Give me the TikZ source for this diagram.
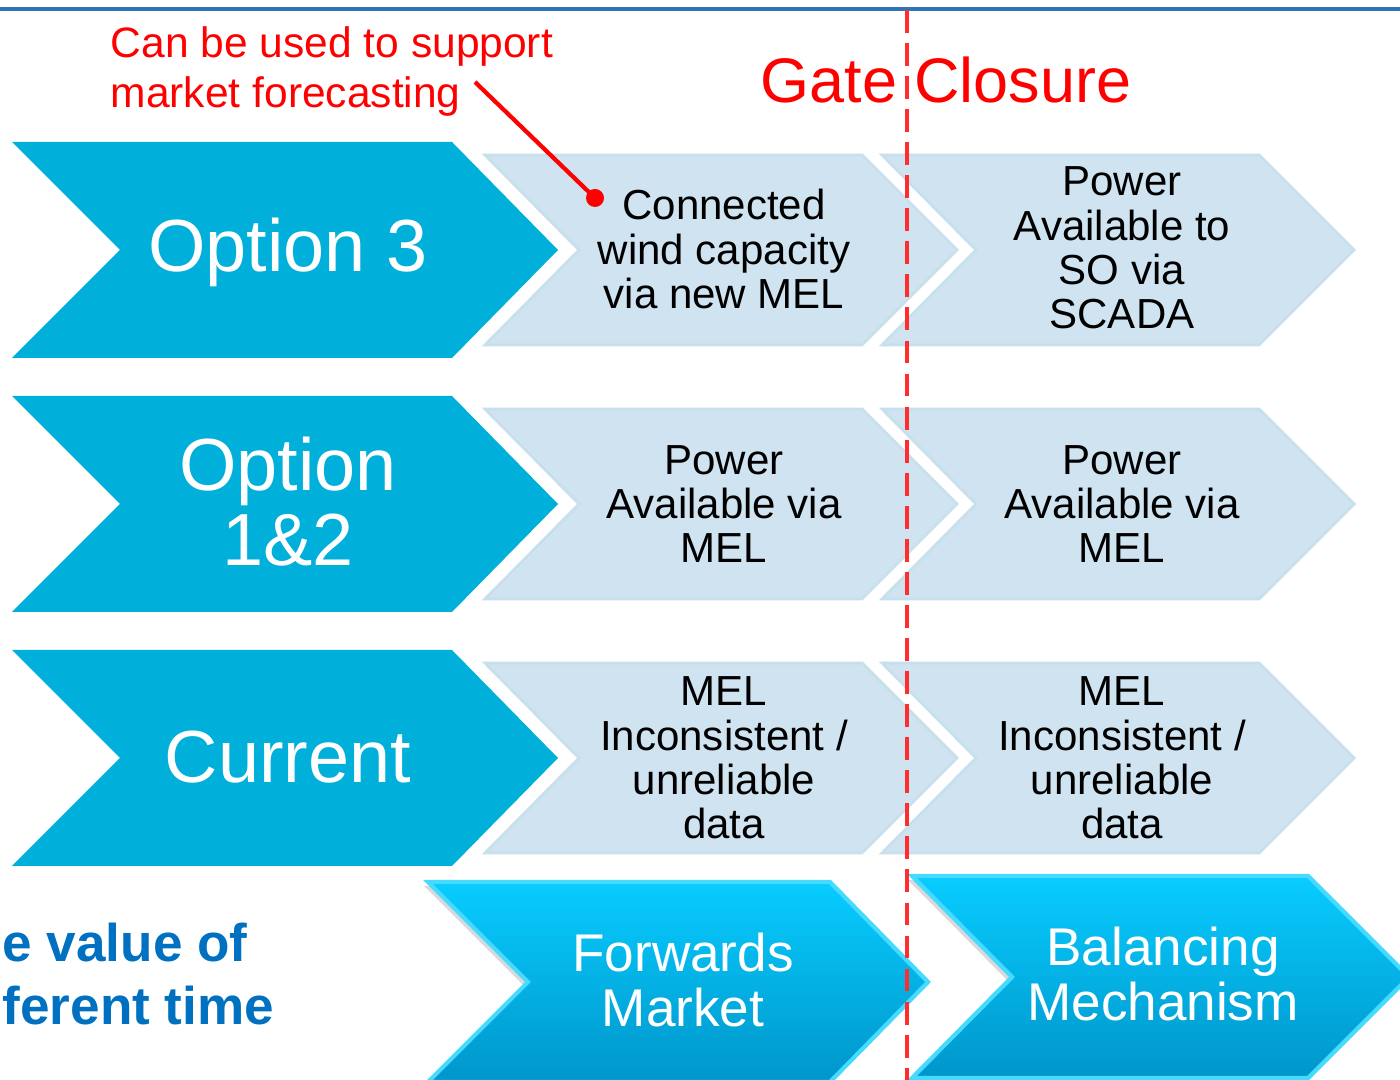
\documentclass[tikz,border=0pt]{standalone}
\usepackage{fontspec}
\setmainfont{Liberation Sans}
\definecolor{gateRule}{RGB}{46,117,182}
\definecolor{gateOption}{RGB}{0,176,219}
\definecolor{gateStage}{RGB}{207,227,240}
\definecolor{gateStageEdge}{RGB}{200,223,238}
\definecolor{gateMarketTop}{RGB}{8,204,255}
\definecolor{gateMarketBottom}{RGB}{0,150,202}
\definecolor{gateMarketEdge}{RGB}{70,218,255}
\definecolor{gateRed}{RGB}{255,0,0}
\definecolor{gateDash}{RGB}{255,45,45}
\definecolor{gateCaption}{RGB}{0,112,192}

\begin{document}
\begin{tikzpicture}[x=.01cm,y=-.01cm,
      option/.style={font=\fontsize{21}{21.3}\selectfont, text=white,
        align=center},
      stage/.style={font=\fontsize{11.95}{12.6}\selectfont, text=black,
        align=center},
      market/.style={font=\fontsize{15.1}{15.6}\selectfont, text=white,
        align=center},
      gate/.style={font=\fontsize{17.9}{19}\selectfont, text=gateRed},
      note/.style={font=\fontsize{12.1}{14.3}\selectfont, text=gateRed,
        align=left, anchor=north west, inner sep=0pt},
      caption/.style={font=\fontsize{15.1}{17.9}\selectfont\bfseries,
        text=gateCaption, align=left, anchor=north west, inner sep=0pt},
      optionChevron/.style={fill=gateOption},
      stageChevron/.style={fill=gateStage, draw=gateStageEdge, line width=.8pt},
      marketChevron/.style={top color=gateMarketTop, bottom color=gateMarketBottom,
        draw=gateMarketEdge, line width=1.2pt, line join=miter},
      marketShadow/.style={fill=black, opacity=.15},
      noteLine/.style={draw=gateRed, line width=1.2pt},
      gateLine/.style={draw=gateDash, line width=1.3pt,
        dash pattern=on 6.5pt off 2.9pt}]
      \useasboundingbox (0,0) rectangle (1400,1080);
      \fill[white] (0,0) rectangle (1400,1080);
      \draw[gateRule, line width=1.1pt] (0,9) -- (1400,9);

      \foreach \cy in {250,504,758}{
        \path[optionChevron] (12,{\cy-108}) -- (452,{\cy-108}) -- (558,\cy)
          -- (452,{\cy+108}) -- (12,{\cy+108}) -- (120,\cy) -- cycle;
        \foreach \dx in {0,397}{
          \path[stageChevron] ({485+\dx},{\cy-95}) -- ({862+\dx},{\cy-95})
            -- ({957+\dx},\cy) -- ({862+\dx},{\cy+95}) -- ({485+\dx},{\cy+95})
            -- ({579+\dx},\cy) -- cycle;}}

      \node[option] (optThree) at (288,252) {Option 3};
      \node[option] (optOneTwo) at (288,502) {Option\\1\&2};
      \node[option] (optCurrent) at (288,757) {Current};

      \node[stage] (threeAhead) at (724,249) {Connected\\wind capacity\\via new MEL};
      \node[stage] (threeGate) at (1122,248) {Power\\Available to\\SO via\\SCADA};
      \node[stage] (oneTwoAhead) at (724,504) {Power\\Available via\\MEL};
      \node[stage] (oneTwoGate) at (1122,504) {Power\\Available via\\MEL};
      \node[stage] (currentAhead) at (724,758) {MEL\\Inconsistent /\\unreliable\\data};
      \node[stage] (currentGate) at (1122,758) {MEL\\Inconsistent /\\unreliable\\data};

      \path[marketShadow] (424,886) -- (826,886) -- (924,986) -- (826,1086)
        -- (424,1086) -- (524,986) -- cycle;
      \path[marketShadow] (908,880) -- (1304,880) -- (1405,981) -- (1304,1082)
        -- (908,1082) -- (1008,981) -- cycle;
      \path[marketChevron] (428,882) -- (830,882) -- (928,982) -- (830,1082)
        -- (428,1082) -- (528,982) -- cycle;
      \path[marketChevron] (912,876) -- (1308,876) -- (1409,977) -- (1308,1078)
        -- (912,1078) -- (1012,977) -- cycle;
      \node[market] (forwards) at (683,980) {Forwards\\Market};
      \node[market] (balancing) at (1163,974) {Balancing\\Mechanism};

      \node[caption] (valueText) at (2,922) {e value of\\ferent time};

      \node[note] (forecastNote) at (110,26) {Can be used to support\\market forecasting};
      \coordinate (noteTail) at (475,82);
      \coordinate (noteDot) at (595,198);
      \draw[noteLine] (noteTail) -- (noteDot);
      \fill[gateRed] (noteDot) circle (9);

      \node[gate] (gateClosure) at (946,80) {Gate Closure};
      \coordinate (gateTop) at (907,10);
      \coordinate (gateBottom) at (907,1080);
      \draw[gateLine] (gateTop) -- (gateBottom);
    \end{tikzpicture}
\end{document}
